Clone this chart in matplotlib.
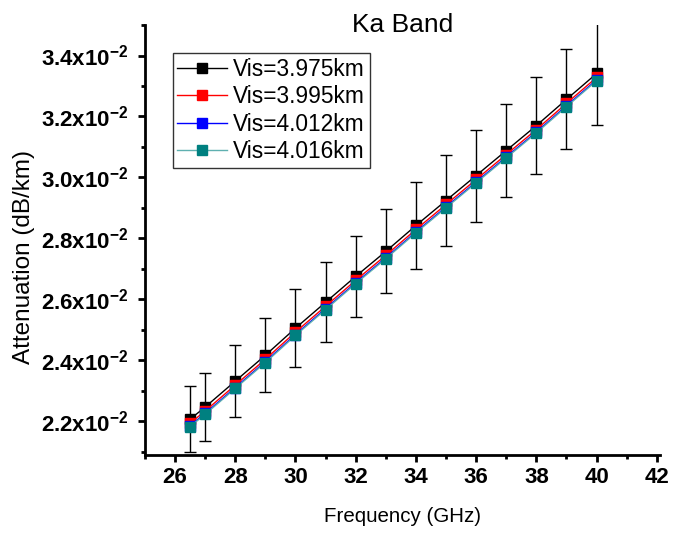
import matplotlib
matplotlib.use("Agg")
import matplotlib.pyplot as plt
from matplotlib.ticker import FixedLocator, FuncFormatter

plt.rcParams['font.family'] = ['Liberation Sans', 'DejaVu Sans']
plt.rcParams['mathtext.fontset'] = 'custom'
plt.rcParams['mathtext.rm'] = 'Liberation Sans:bold'
plt.rcParams['mathtext.bf'] = 'Liberation Sans:bold'

# ----------------------------
# Dados (atenuação em dB/km)
# ----------------------------
freq = [26.5, 27, 28, 29, 30, 31, 32, 33, 34, 35, 36, 37, 38, 39, 40]

vis_3975 = [0.02206, 0.02246, 0.02331, 0.02416, 0.02505, 0.02590, 0.02675, 0.02757,
            0.02842, 0.02924, 0.03006, 0.03088, 0.03170, 0.03256, 0.03341]
vis_3995 = [0.02193, 0.02233, 0.02318, 0.02403, 0.02492, 0.02577, 0.02662, 0.02744,
            0.02829, 0.02911, 0.02993, 0.03075, 0.03157, 0.03243, 0.03328]
vis_4012 = [0.02185, 0.02225, 0.02310, 0.02395, 0.02484, 0.02569, 0.02654, 0.02736,
            0.02821, 0.02903, 0.02985, 0.03067, 0.03149, 0.03235, 0.03320]
vis_4016 = [0.02182, 0.02222, 0.02307, 0.02392, 0.02481, 0.02566, 0.02651, 0.02733,
            0.02818, 0.02900, 0.02982, 0.03064, 0.03146, 0.03232, 0.03317]

# barras de erro (só na primeira série)
erro = [0.00108, 0.00113, 0.00118, 0.00121, 0.00128, 0.00131, 0.00134, 0.00138,
        0.00143, 0.00148, 0.00151, 0.00154, 0.00159, 0.00164, 0.00170]

# (rótulo, valores, cor da linha, cor do marcador)
series = [
    ("Vis=3.975km", vis_3975, "black", "black"),
    ("Vis=3.995km", vis_3995, "red", "red"),
    ("Vis=4.012km", vis_4012, "blue", "blue"),
    ("Vis=4.016km", vis_4016, "#5fb0b0", "#008080"),
]

fig = plt.figure(figsize=(6.74, 5.33), dpi=100)
ax = fig.add_axes([0.215, 0.146, 0.764, 0.807])

ax.errorbar(freq, vis_3975, yerr=erro, fmt='none', ecolor='black',
            elinewidth=1.0, capsize=4, capthick=1.0, zorder=1)

for label, valores, cor, cor_m in series:
    ax.plot(freq, valores, color=cor, lw=1.0, marker='s', markersize=7.2,
            markerfacecolor=cor_m, markeredgecolor=cor_m, label=label, zorder=3)

ax.set_xlim(25, 42.1)
ax.set_ylim(0.02088, 0.03500)

ax.xaxis.set_major_locator(FixedLocator([26, 28, 30, 32, 34, 36, 38, 40, 42]))
ax.xaxis.set_minor_locator(FixedLocator([25, 27, 29, 31, 33, 35, 37, 39, 41]))
yt = [0.022, 0.024, 0.026, 0.028, 0.030, 0.032, 0.034]
ax.yaxis.set_major_locator(FixedLocator(yt))
ax.yaxis.set_minor_locator(FixedLocator([0.021, 0.023, 0.025, 0.027, 0.029, 0.031, 0.033, 0.035]))
ax.yaxis.set_major_formatter(FuncFormatter(lambda v, p: f"{v*100:.1f}x10$^{{-2}}$"))

for s in ['top', 'right']:
    ax.spines[s].set_visible(False)
for s in ['left', 'bottom']:
    ax.spines[s].set_linewidth(2)

ax.tick_params(which='major', direction='out', length=5, width=2, labelsize=16)
ax.tick_params(axis='y', which='major', pad=7)
ax.tick_params(which='minor', direction='out', length=3, width=2)
for t in ax.get_xticklabels() + ax.get_yticklabels():
    t.set_fontweight('bold')

ax.set_title("Ka Band", fontsize=19, y=0.983, pad=0)
ax.set_xlabel("Frequency (GHz)", fontsize=14.8, labelpad=14)
ax.set_ylabel("Attenuation (dB/km)", fontsize=17.5)
ax.yaxis.set_label_coords(-0.214, 0.46)

leg = ax.legend(loc='upper left', bbox_to_anchor=(0.054, 0.935), fontsize=16.4,
                frameon=True, fancybox=False, handlelength=2.2, handletextpad=0.25,
                borderpad=0.2, labelspacing=0.2, borderaxespad=0)
leg.get_frame().set_edgecolor('black')
leg.get_frame().set_linewidth(1)

fig.savefig("out.png", dpi=100)
